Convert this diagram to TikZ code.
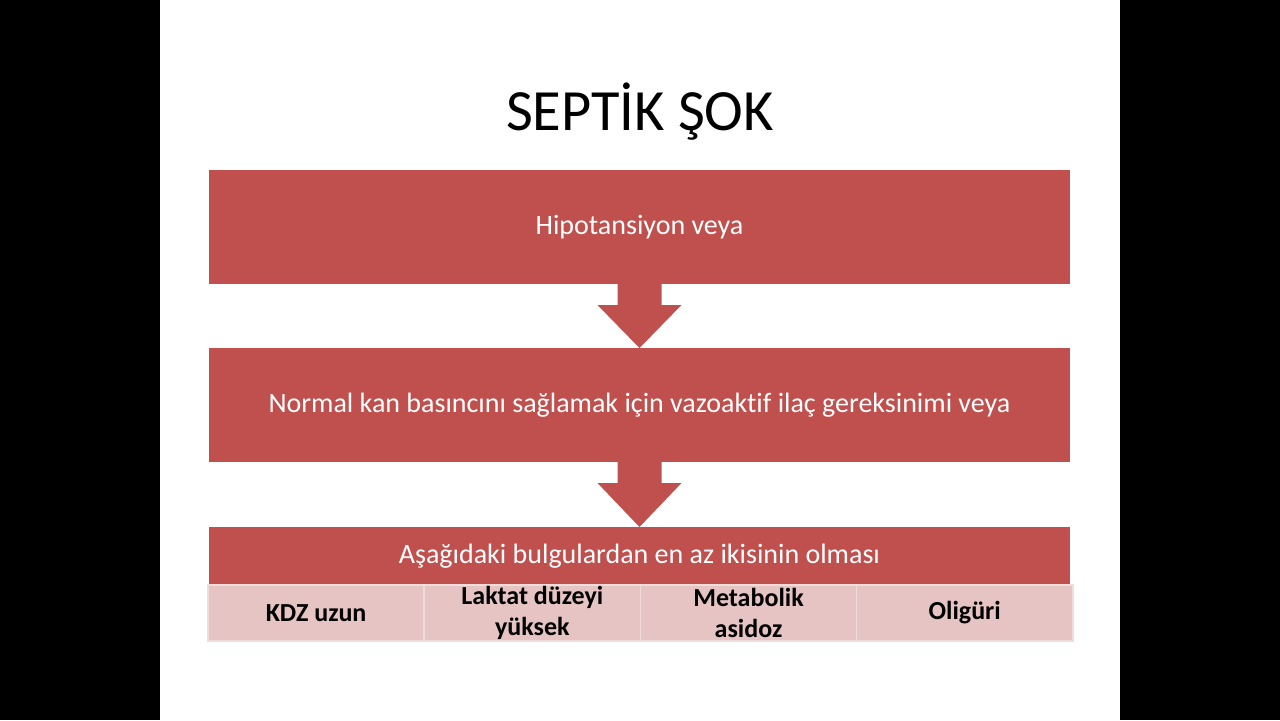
\documentclass[tikz,border=0pt]{standalone}
\usepackage{fontspec}
\setmainfont{Carlito}[Ligatures=NoCommon]
\usepackage{tikz}
\usetikzlibrary{positioning}
\definecolor{sepred}{RGB}{192,80,77}
\definecolor{sepcell}{RGB}{230,196,195}
\definecolor{sepline}{RGB}{240,220,219}
\tikzset{
  redbox/.style={
    rectangle,
    fill=sepred,
    text=white,
    minimum width=430.5pt,
    minimum height=57pt,
    inner sep=0pt, outer sep=0pt,
    font=\fontsize{14}{16}\selectfont,
    align=center},
  thinbox/.style={redbox, minimum height=29pt},
  cell/.style={
    rectangle,
    fill=sepcell,
    draw=sepline, line width=0.8pt,
    minimum width=108.1pt,
    minimum height=28pt,
    inner sep=0pt, outer sep=0pt,
    font=\bfseries\fontsize{13}{15.5}\selectfont,
    align=center},
  title/.style={font=\fontsize{29.2}{34}\selectfont, anchor=base},
}
\begin{document}
\begin{tikzpicture}[x=0.5pt, y=-0.5pt, node distance=32pt]
     \useasboundingbox (0,0) rectangle (1280,720);
     \fill[black] (0,0) rectangle (1280,720);
     \fill[white] (160,0) rectangle (1120,720);
     % title
     \node[title] (Title) at (640,130) {SEPTİK ŞOK};
     % main boxes
     \node[redbox] (Hipo) at (639.5,227) {Hipotansiyon veya};
     \node[redbox, below=of Hipo] (Vazo) {Normal kan basıncını sağlamak için vazoaktif ilaç gereksinimi veya};
     \node[thinbox, below=32.5pt of Vazo] (Bulgu) {Aşağıdaki bulgulardan en az ikisinin olması};
     % findings
     \node[cell, anchor=north west] (KDZ) at ([xshift=-0.5pt]Bulgu.south west) {KDZ uzun};
     \node[cell, right=0pt of KDZ] (Laktat) {Laktat düzeyi\\yüksek};
     \node[cell, right=0pt of Laktat] (Asidoz) {Metabolik\\asidoz};
     \node[cell, right=0pt of Asidoz] (Oliguri) {Oligüri};
     % block arrows
     \foreach \a/\b in {Hipo/Vazo, Vazo/Bulgu}
       \fill[sepred] ([xshift=-11pt]\a.south) -- ([xshift=-11pt,yshift=-10.5pt]\a.south)
         -- ([xshift=-21pt,yshift=-10.5pt]\a.south) -- (\b.north)
         -- ([xshift=21pt,yshift=-10.5pt]\a.south) -- ([xshift=11pt,yshift=-10.5pt]\a.south)
         -- ([xshift=11pt]\a.south) -- cycle;
\end{tikzpicture}
\end{document}
